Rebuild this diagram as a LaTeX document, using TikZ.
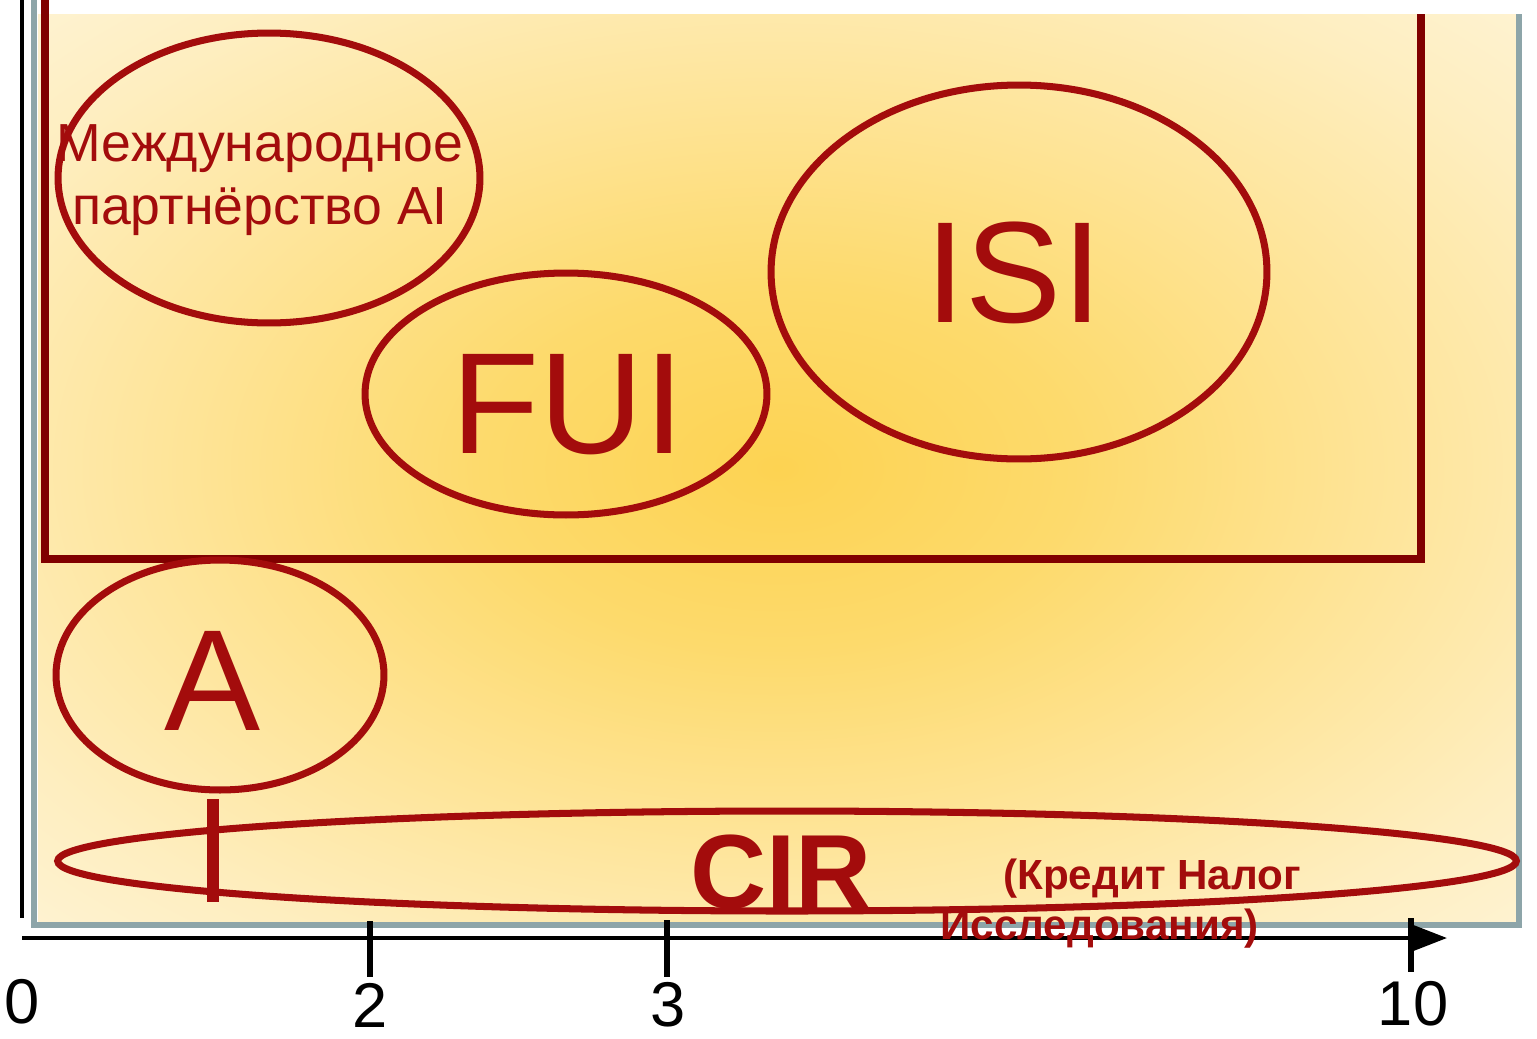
\documentclass[tikz,border=0pt]{standalone}
\usepackage{fontspec}
\setmainfont{Liberation Sans}
\usepackage{tikz}
\usetikzlibrary{positioning}
\usetikzlibrary{shapes.geometric}
\usetikzlibrary{arrows.meta}
\definecolor{ringred}{RGB}{163,12,12}
\definecolor{boxred}{RGB}{128,0,0}
\definecolor{framegray}{RGB}{141,165,169}
\definecolor{glowA}{RGB}{253,211,82}
\definecolor{glowB}{RGB}{253,218,108}
\definecolor{glowC}{RGB}{254,228,151}
\definecolor{glowD}{RGB}{254,238,192}
\definecolor{glowE}{RGB}{255,246,222}
\definecolor{glowF}{RGB}{255,252,243}
\definecolor{glowG}{RGB}{255,254,251}
\pgfdeclareradialshading{glow}{\pgfpoint{0bp}{0bp}}{color(0bp)=(glowA); color(10bp)=(glowB); color(20bp)=(glowC); color(30bp)=(glowD); color(40bp)=(glowE); color(49bp)=(glowF); color(70bp)=(glowG)}

\begin{document}
\begin{tikzpicture}[x=0.02cm,y=-0.02cm,
  ring/.style={draw=ringred,line width=4pt,shape=ellipse,inner sep=0pt},
  tag/.style={text=ringred,inner sep=0pt,anchor=base},
  num/.style={inner sep=0pt,anchor=base,font=\fontsize{36}{40}\selectfont},
  tick/.style={line width=3.4pt}]
  \useasboundingbox (0,0) rectangle (1537,1038);

  % background panel
  \shade[shading=glow] (38,14) rectangle (1517,922);
  \draw[framegray,line width=3.4pt] (34,-20) rectangle (1519,925);
  \fill[white] (49,-20) rectangle (1540,14);
  \draw[boxred,line width=4.5pt] (45,-20) -- (45,559) -- (1421,559) -- (1421,14);

  % ellipses
  \node[ring,minimum width=8.44cm,minimum height=5.8cm] (pai) at (269,178) {};
  \node[ring,minimum width=8.04cm,minimum height=4.84cm] (fui) at (566,394) {};
  \node[ring,minimum width=9.92cm,minimum height=7.48cm] (isi) at (1019,272) {};
  \node[ring,minimum width=6.56cm,minimum height=4.6cm] (a) at (220,675) {};
  \node[ring,minimum width=29.18cm,minimum height=2cm] (cir) at (787,861) {};

  \node[text=ringred,inner sep=0pt,align=center,font=\fontsize{30.5}{35.5}\selectfont]
    (paitxt) at (260,180) {Международное\\партнёрство AI};
  \node[tag,font=\fontsize{82}{90}\selectfont] (fuitxt) at (568,453) {FUI};
  \node[tag,font=\fontsize{82}{90}\selectfont] (isitxt) at (1014,322) {ISI};
  \node[tag,font=\fontsize{82}{90}\selectfont] (atxt) at (213,730) {A};

  \draw[ringred,line width=6.8pt] (213,799) -- (213,902);

  % axes
  \draw[line width=2.8pt] (22,0) -- (22,918);
  \draw[line width=2.3pt,-{Triangle[length=0.7cm,width=0.52cm]}] (22,938) -- (1447,938);
  \draw[tick] (370,921) -- (370,977);
  \draw[tick] (667,920) -- (667,977);
  \draw[tick] (1411,918) -- (1411,972);
  \node[num] (n0) at (22,1023) {0};
  \node[num] (n2) at (370,1027) {2};
  \node[num] (n3) at (668,1026) {3};
  \node[num] (n10) at (1413,1025) {10};

  \node[tag,font=\fontsize{60}{66}\selectfont\bfseries] (cirtxt) at (781,908) {CIR};
  \node[tag,anchor=base west,font=\fontsize{24}{28}\selectfont\bfseries] (cirnoteA) at (1003,889) {(Кредит Налог};
  \node[tag,anchor=base west,font=\fontsize{24}{28}\selectfont\bfseries] (cirnoteB) at (940,939) {Исследования)};
\end{tikzpicture}
\end{document}
